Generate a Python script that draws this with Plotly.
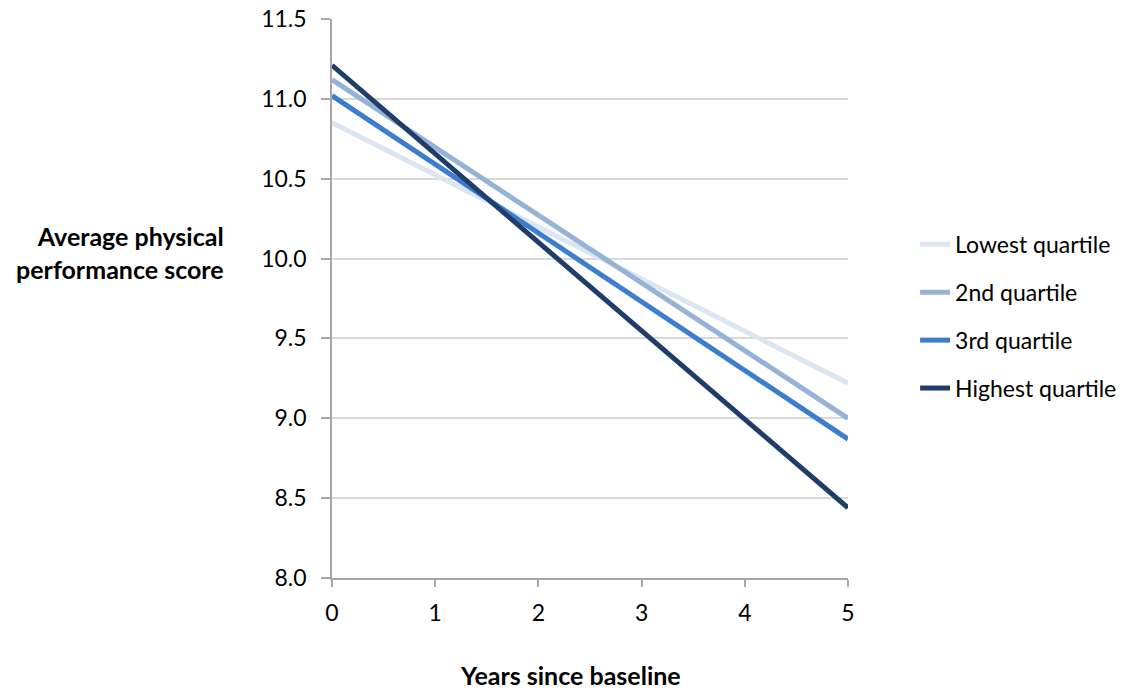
import plotly.graph_objects as go

years = [0, 5]
series_names = ["Lowest quartile", "2nd quartile", "3rd quartile", "Highest quartile"]
lowest = [10.85, 9.22]
second = [11.12, 9.00]
third = [11.02, 8.87]
highest = [11.21, 8.44]
colors = ["#DCE6F2", "#95B3D7", "#3C7DD0", "#1F3D6B"]
y_ticks = [8.0, 8.5, 9.0, 9.5, 10.0, 10.5, 11.0, 11.5]
x_ticks = [0, 1, 2, 3, 4, 5]

font_family = "Lato, 'Open Sans', sans-serif"

fig = go.Figure()
for i, (name, vals) in enumerate(zip(series_names, [lowest, second, third, highest])):
    fig.add_trace(go.Scatter(
        x=years, y=vals, mode="lines", name=name, legendgroup=f"g{i}",
        line=dict(color=colors[i], width=5),
    ))

fig.update_layout(
    width=1123, height=683,
    margin=dict(l=324, r=283, t=11, b=113, autoexpand=False),
    paper_bgcolor="white", plot_bgcolor="white",
    font=dict(family=font_family, size=23, color="#000000"),
    showlegend=True,
    legend=dict(x=1.13, xanchor="left", y=0.468, yanchor="middle",
                font=dict(size=23), tracegroupgap=15, bgcolor="rgba(0,0,0,0)"),
    xaxis=dict(range=[0, 5], tickvals=x_ticks, showgrid=False, zeroline=False,
               showline=True, linecolor="#A6A6A6", linewidth=1.5, automargin=False,
               ticks="outside", ticklen=7, tickcolor="#A6A6A6", tickwidth=1.5,
               ticklabelstandoff=7, tickfont=dict(size=23)),
    yaxis=dict(range=[8.0, 11.5], tickvals=y_ticks, ticktext=[f"{v:.1f}" for v in y_ticks],
               showgrid=True, gridcolor="#D9D9D9", gridwidth=1.5, zeroline=False,
               showline=True, linecolor="#A6A6A6", linewidth=1.5, automargin=False,
               ticks="outside", ticklen=9, tickcolor="#A6A6A6", tickwidth=1.5,
               ticklabelstandoff=10, ticklabeloverflow="allow",
               tickfont=dict(size=23)),
    annotations=[
        dict(text="<b>Average physical<br>performance score</b>", xref="paper", yref="paper",
             x=-0.2054, y=0.583, xanchor="right", yanchor="middle", showarrow=False,
             align="right", font=dict(size=25)),
        dict(text="<b>Years since baseline</b>", xref="paper", yref="paper",
             x=0.463, y=-0.1735, xanchor="center", yanchor="middle", showarrow=False,
             font=dict(size=25)),
    ],
)

fig.write_html("out.html")
